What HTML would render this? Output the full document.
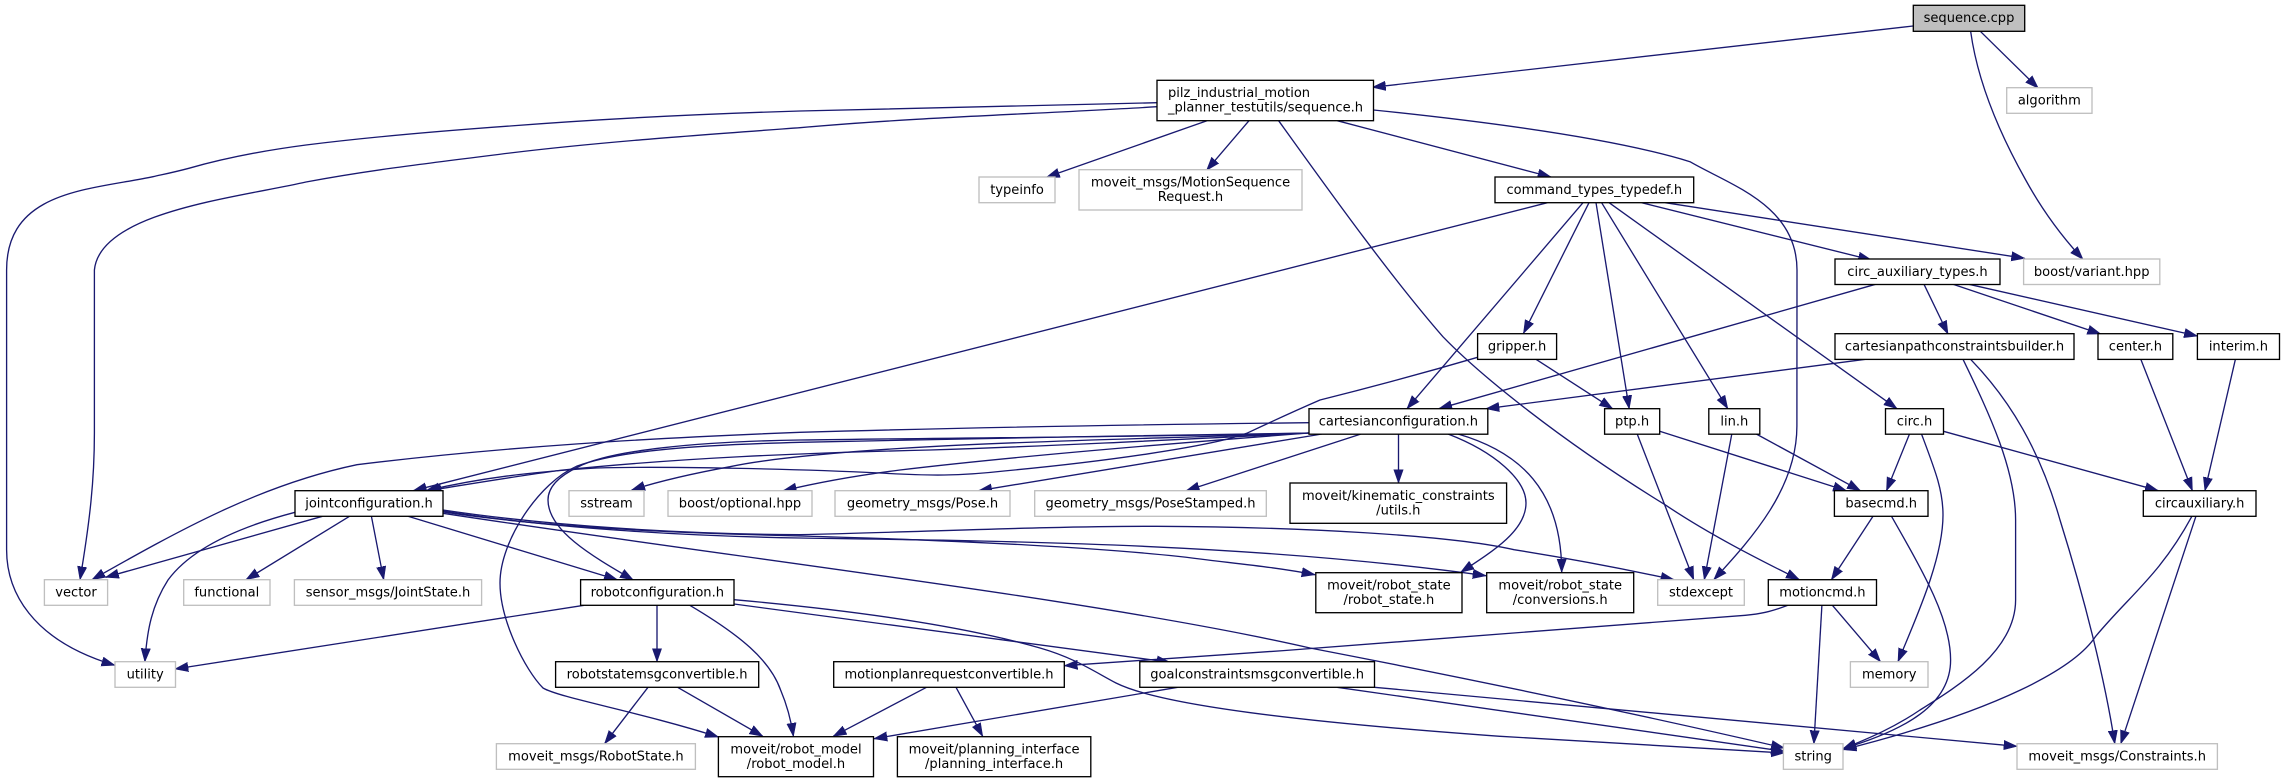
<!DOCTYPE html>
<html><head><meta charset="utf-8"><title>sequence.cpp</title>
<style>
html,body{margin:0;padding:0;background:#fff}
svg{display:block}
text{font-family:"DejaVu Sans",sans-serif;font-size:13.05px;fill:#000;text-anchor:middle}
.l path{fill:none;stroke:#191970;stroke-width:1.33;marker-end:url(#a)}
.k rect{fill:#fff;stroke:#000;stroke-width:1.33}
.g rect{fill:#fff;stroke:#bfbfbf;stroke-width:1.33}
</style></head><body>
<svg xmlns="http://www.w3.org/2000/svg" width="2285" height="783" viewBox="0 0 2285 783">
<defs><marker id="a" markerUnits="userSpaceOnUse" markerWidth="15" markerHeight="11" refX="13.3" refY="5" orient="auto"><path d="M0 .33L13.3 5 0 9.67z" fill="#191970" stroke="#191970" stroke-width=".6"/></marker></defs>
<g class="l">
<path d="M1913 26L1372.4 87.3"/>
<path d="M1980.7 31.7L2038.3 88.3"/>
<path d="M1970.7 31.7C1976 70 1992 120 2025.7 180C2045 215 2065 240 2083 259.3"/>
<path d="M1157 106.7C1040 114 920 117 800 127.7C700 135 600 142 510 153C430 163 370 170 306 182C235 198 100 212 94.4 270L94.4 433C94.4 480 90 520 80 579.7"/>
<path d="M1157 102.7C1040 106 920 108 800 111C700 114 600 119 510 126C440 131 370 137 306 145C260 151 225 158 188.8 168.3C175 172 165 174 153 176.7C90 190 6.6 190 6.6 270L6.6 549.7C6.6 590 30 640 114.8 665.3"/>
<path d="M1207 120.7L1046.4 177.3"/>
<path d="M1249 120.7L1206.6 170.3"/>
<path d="M1278.6 120.7C1320 178 1385 270 1442.9 336.7C1480 375 1560 440 1665 504.7C1710 535 1760 560 1799.4 579.7"/>
<path d="M1337.2 120.7L1551 177"/>
<path d="M1373.5 110C1500 123 1620 140 1690 161.7C1730 185 1797 205 1797 270L1796.9 426C1796.9 490 1750 540 1713.8 579.7"/>
<path d="M1665.2 202.7L2024.6 258.3"/>
<path d="M1641.7 202.7L1871.5 260"/>
<path d="M1609.1 202.7L1897 408.7"/>
<path d="M1601.6 202.7L1727.8 408.7"/>
<path d="M1596 202.7L1629.2 408.7"/>
<path d="M1589 202.7L1523.5 333.3"/>
<path d="M1583 202.7L1407 408.7"/>
<path d="M1547.4 202.7L413.3 490.7"/>
<path d="M1875.5 284.3L1438.8 408.7"/>
<path d="M1924 284.3L1948 334"/>
<path d="M1953 284.3L2100.7 334"/>
<path d="M1969 284.3L2197.4 336"/>
<path d="M1865.4 359.3L1486 408.7"/>
<path d="M1963 359.3C1990 415 2015.6 470 2015.6 520L2015.6 600C2015.6 650 1960 685 1920 710C1895 727 1870 738 1843 748.7"/>
<path d="M1970.6 359.3C2010 400 2040 450 2060 520C2085 600 2105 680 2114.8 743.7"/>
<path d="M2140.8 359.3L2192.4 490.7"/>
<path d="M2235.4 359.3L2204.9 490.7"/>
<path d="M1536 359.3L1612.6 408.7"/>
<path d="M1477.6 357.3C1400 380 1340 395 1320 400C1290 413 1275 420 1246.7 433.3C1210 447 1100 462 1004 471C960 476 930 476 880 473C800 469 663 466 596.7 468C530 472 480 478 426 490.7"/>
<path d="M1659.7 431.3L1846.4 490.7"/>
<path d="M1637.2 434L1693.7 579.7"/>
<path d="M1756.3 434L1860.4 490.7"/>
<path d="M1731.8 434L1704.3 579.7"/>
<path d="M1909.5 434L1886.5 490.7"/>
<path d="M1921.5 434C1935 470 1943 490 1943 515C1943 560 1915 620 1898 661.7"/>
<path d="M1943.5 431.3L2158.3 490.7"/>
<path d="M1873 516.3L1831.4 579.7"/>
<path d="M1891.5 516.3C1925 575 1950.6 620 1950.6 660C1950.6 705 1905 730 1843 748.7"/>
<path d="M2191.9 516.3C2160 575 2130 595 2095.7 636.3C2075 668 2000 710 1843 749.7"/>
<path d="M2195.9 516.3L2120.8 743.7"/>
<path d="M1821.9 605.3L1813.9 743.7"/>
<path d="M1832.4 605.3L1880.5 661.7"/>
<path d="M1787.9 605.3C1770 612 1760 614 1745.3 615.3C1600 628 1300 650 1064.3 665.7"/>
<path d="M1398.5 434L1398.5 483"/>
<path d="M1361 434L1186.2 490.7"/>
<path d="M1322 434L978.6 490.7"/>
<path d="M1448 434C1495 452 1526 480 1526 503C1526 530 1495 550 1460.7 572.3"/>
<path d="M1458 434C1520 452 1561.7 490 1561.7 572.3"/>
<path d="M1309 422.7C1100 425 950 428 800 432.3C650 438 500 447 357 464.7C260 485 180 530 92 579.7"/>
<path d="M1309 433C1150 436 950 438 800 442.3C700 445 620 450 576.5 466.3C540 482 500 540 500 583C500 620 525 670 543 688C560 698 640 712 718.4 737"/>
<path d="M1309 433C1150 437 950 438 800 440C700 441.5 610 450 578 467C555 478 548 490 548 500C548 530 590 555 633.3 580"/>
<path d="M1309 433C1150 441 1050 446 930 450C800 453 680 458 563 470C510 477 470 484 428 490.7"/>
<path d="M1309 433C1180 438 1050 440 930 446.7C850 451 770 458 730 466.7C690 474 660 481 631.7 490"/>
<path d="M1309 433C1150 445 1000 458 900 470C860 475 820 482 783.3 490.7"/>
<path d="M295 512.3C235 528 190 550 168 580C152 605 147 630 144.9 661.7"/>
<path d="M322.4 516.3L105.6 577.3"/>
<path d="M349.5 516.3L246 579.7"/>
<path d="M371.4 516.3L383.7 579.7"/>
<path d="M408 516.3L617.3 579.7"/>
<path d="M443 513.3C750 560 1100 600 1310 648C1450 675 1620 710 1784.4 748"/>
<path d="M443 512C550 528 680 533 800 536C950 540 1120 548 1208 560C1250 565 1280 568 1315 574.7"/>
<path d="M443 511C550 528 680 536 800 538C1000 541 1250 543 1486 575.7"/>
<path d="M443 510C550 526 680 534 800 534.7C920 532 1050 526 1157 526.3C1300 527 1450 535 1514 549.7C1560 557 1620 568 1674 579.7"/>
<path d="M584 605.3L175 669"/>
<path d="M657 605.3L657 661.7"/>
<path d="M689.8 605.3C740 635 770 660 780.6 690C787 705 791 720 793.4 736.3"/>
<path d="M734 604L1170 662.3"/>
<path d="M734 599.7C850 610 960 625 1040 648C1075 658 1095 672 1116 683C1160 705 1300 722 1500 736.3C1600 742 1700 748 1784.4 753"/>
<path d="M648 687.3L604.6 743.7"/>
<path d="M677.6 687.3L762.8 736.3"/>
<path d="M926.5 687.3L833.2 736.3"/>
<path d="M956 687.3L982.7 736.3"/>
<path d="M1177.6 687.3L874 738.7"/>
<path d="M1337.2 687.3L1784.4 751.3"/>
<path d="M1374.5 687.3L2017 746.3"/>
</g>
<g class="k">
<rect x="1913.3" y="5.3" width="111.4" height="26" style="fill:#bfbfbf"/><text x="1969" y="22.2">sequence.cpp</text>
<rect x="1157" y="80.3" width="216.5" height="40.4"/><text x="1168" y="97" style="text-anchor:start">pilz_industrial_motion</text><text x="1168" y="111.5" style="text-anchor:start">_planner_testutils/sequence.h</text>
<rect x="1495" y="177" width="198.7" height="25.7"/><text x="1594.3" y="193.9">command_types_typedef.h</text>
<rect x="1835" y="259" width="165" height="25.5"/><text x="1917.5" y="275.9">circ_auxiliary_types.h</text>
<rect x="1477.6" y="333.7" width="79" height="25.7"/><text x="1517.1" y="350.6">gripper.h</text>
<rect x="1835" y="333.7" width="239" height="25.7"/><text x="1954.5" y="350.6">cartesianpathconstraintsbuilder.h</text>
<rect x="2098" y="333.7" width="74.8" height="25.7"/><text x="2135.4" y="350.6">center.h</text>
<rect x="2197.4" y="333.7" width="82.1" height="25.7"/><text x="2238.4" y="350.6">interim.h</text>
<rect x="1309" y="408.7" width="178.8" height="25.5"/><text x="1398.4" y="425.6">cartesianconfiguration.h</text>
<rect x="1604.6" y="408.7" width="55.1" height="25.5"/><text x="1632.1" y="425.6">ptp.h</text>
<rect x="1708.8" y="408.7" width="51" height="25.5"/><text x="1734.3" y="425.6">lin.h</text>
<rect x="1885.5" y="408.7" width="58" height="25.5"/><text x="1914.5" y="425.6">circ.h</text>
<rect x="295" y="490.7" width="148" height="25.6"/><text x="369" y="507.6">jointconfiguration.h</text>
<rect x="1290" y="483" width="216.6" height="40.3"/><text x="1398.3" y="499.9">moveit/kinematic_constraints</text><text x="1398.3" y="514.4">/utils.h</text>
<rect x="1834.4" y="490.7" width="93.6" height="25.6"/><text x="1881.2" y="507.6">basecmd.h</text>
<rect x="2143.3" y="490.7" width="112.7" height="25.6"/><text x="2199.6" y="507.6">circauxiliary.h</text>
<rect x="580.6" y="579.7" width="153.4" height="25.6"/><text x="657.3" y="596.6">robotconfiguration.h</text>
<rect x="1315.8" y="572.7" width="146.2" height="40"/><text x="1388.9" y="589.6">moveit/robot_state</text><text x="1388.9" y="604.1">/robot_state.h</text>
<rect x="1486.7" y="572.7" width="147" height="40"/><text x="1560.2" y="589.6">moveit/robot_state</text><text x="1560.2" y="604.1">/conversions.h</text>
<rect x="1768.3" y="579.7" width="108.2" height="25.6"/><text x="1822.4" y="596.6">motioncmd.h</text>
<rect x="555.6" y="661.7" width="203.1" height="25.6"/><text x="657.1" y="678.6">robotstatemsgconvertible.h</text>
<rect x="833.7" y="661.7" width="230.6" height="25.6"/><text x="949" y="678.6">motionplanrequestconvertible.h</text>
<rect x="1139.8" y="661.7" width="234.7" height="25.6"/><text x="1257.1" y="678.6">goalconstraintsmsgconvertible.h</text>
<rect x="718.4" y="736.7" width="155.1" height="40"/><text x="796" y="753.6">moveit/robot_model</text><text x="796" y="768.1">/robot_model.h</text>
<rect x="897.4" y="736.7" width="193.4" height="40"/><text x="994.1" y="753.6">moveit/planning_interface</text><text x="994.1" y="768.1">/planning_interface.h</text>
</g>
<g class="g">
<rect x="2006.7" y="87.7" width="85.3" height="25.6"/><text x="2049.3" y="104.6">algorithm</text>
<rect x="979" y="177" width="76" height="25.7"/><text x="1017" y="193.9">typeinfo</text>
<rect x="1079" y="169.7" width="223" height="40.3"/><text x="1190.5" y="186.6">moveit_msgs/MotionSequence</text><text x="1190.5" y="201.1">Request.h</text>
<rect x="2023.6" y="259" width="136.2" height="25.5"/><text x="2091.7" y="275.9">boost/variant.hpp</text>
<rect x="569" y="490.7" width="75" height="25.6"/><text x="606.5" y="507.6">sstream</text>
<rect x="668" y="490.7" width="144" height="25.6"/><text x="740" y="507.6">boost/optional.hpp</text>
<rect x="835" y="490.7" width="175" height="25.6"/><text x="922.5" y="507.6">geometry_msgs/Pose.h</text>
<rect x="1034.7" y="490.7" width="231.6" height="25.6"/><text x="1150.5" y="507.6">geometry_msgs/PoseStamped.h</text>
<rect x="44.4" y="579.7" width="63.2" height="25.6"/><text x="76" y="596.6">vector</text>
<rect x="183.7" y="579.7" width="86.3" height="25.6"/><text x="226.8" y="596.6">functional</text>
<rect x="294.4" y="579.7" width="187.2" height="25.6"/><text x="388" y="596.6">sensor_msgs/JointState.h</text>
<rect x="1657.7" y="579.7" width="86.6" height="25.6"/><text x="1701" y="596.6">stdexcept</text>
<rect x="115" y="661.7" width="60.5" height="25.6"/><text x="145.2" y="678.6">utility</text>
<rect x="1850.4" y="661.7" width="77.6" height="25.6"/><text x="1889.2" y="678.6">memory</text>
<rect x="496.4" y="743.7" width="199" height="25.6"/><text x="595.9" y="760.6">moveit_msgs/RobotState.h</text>
<rect x="1783.4" y="743.7" width="59.6" height="25.6"/><text x="1813.2" y="760.6">string</text>
<rect x="2017" y="743.7" width="200.4" height="25.6"/><text x="2117.2" y="760.6">moveit_msgs/Constraints.h</text>
</g>
</svg>
</body></html>
